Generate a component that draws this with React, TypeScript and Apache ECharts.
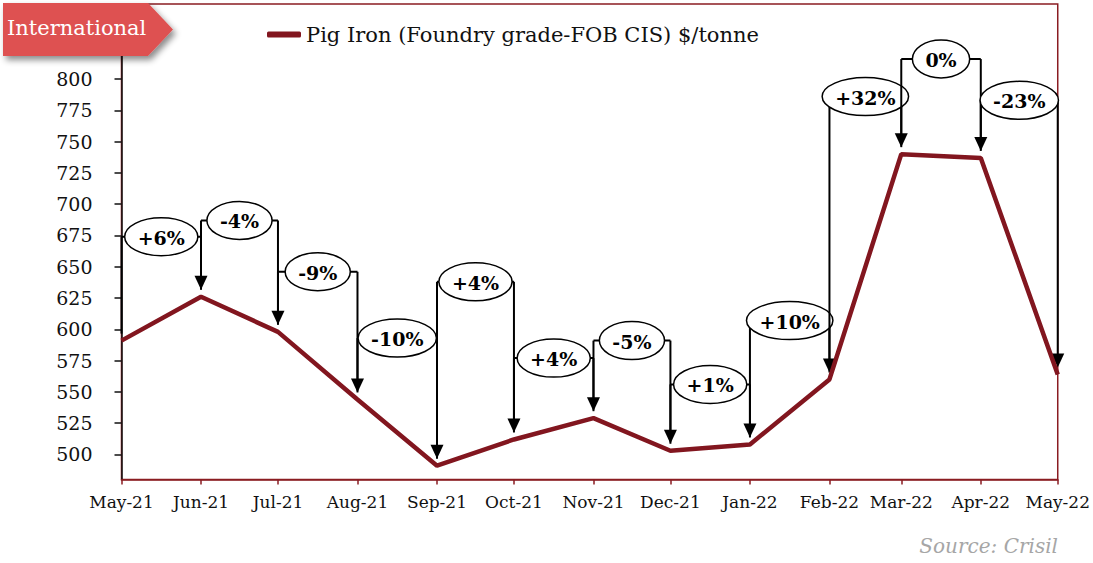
import React, { useEffect, useRef } from "react";
import * as echarts from "echarts";

const monthLabels = ["May-21", "Jun-21", "Jul-21", "Aug-21", "Sep-21", "Oct-21", "Nov-21", "Dec-21", "Jan-22", "Feb-22", "Mar-22", "Apr-22", "May-22"];
const monthDates = ["2021-05-01", "2021-06-01", "2021-07-01", "2021-08-01", "2021-09-01", "2021-10-01", "2021-11-01", "2021-12-01", "2022-01-01", "2022-02-01", "2022-03-01", "2022-04-01", "2022-05-01"];
const pigIronPrices = [591, 626, 598, 544, 491, 512, 529, 503, 508, 560, 740, 737, 564];
const changeLabels = ["+6%", "-4%", "-9%", "-10%", "+4%", "+4%", "-5%", "+1%", "+10%", "+32%", "0%", "-23%"];
// annotation bracket levels (in $/tonne units)
const bracketLevels = [674, 687, 646, 593, 638, 577, 591, 556, 607, 786, 816, 783];
const yTickValues = [500, 525, 550, 575, 600, 625, 650, 675, 700, 725, 750, 775, 800, 825, 850];
const yLabelValues = [500, 525, 550, 575, 600, 625, 650, 675, 700, 725, 750, 775, 800];
const seriesName = "Pig Iron (Foundry grade-FOB CIS) $/tonne";

const DAY = 86400000;
const dayOffsets = monthDates.map((d) => Math.round((Date.parse(d) - Date.parse(monthDates[0])) / DAY));

const SERIF = '"DejaVu Serif", "Liberation Serif", serif';
const LABEL_FONT = `bold 19px ${SERIF}`;

let measureCtx: CanvasRenderingContext2D | null = null;
function textWidth(t: string, font: string): number {
  if (!measureCtx) {
    const c = document.createElement("canvas");
    measureCtx = c.getContext("2d");
  }
  if (!measureCtx) return t.length * 12;
  measureCtx.font = font;
  return measureCtx.measureText(t).width;
}

export default function App() {
  const ref = useRef<HTMLDivElement | null>(null);

  useEffect(() => {
    if (!ref.current) return;
    const chart = echarts.init(ref.current, undefined, { renderer: "svg" });
    const lineData = dayOffsets.map((d, i) => [d, pigIronPrices[i]]);
    const annData = changeLabels.map((_, k) => [k + 1, bracketLevels[k]]);

    const option: any = {
      animation: false,
      backgroundColor: "#ffffff",
      grid: {
        left: 121.5,
        right: 34.5,
        top: 4,
        bottom: 83.5,
        show: true,
        borderColor: "#8a1c22",
        borderWidth: 1.5,
        backgroundColor: "transparent",
      },
      legend: {
        data: [seriesName],
        left: 262,
        top: 19,
        icon: "roundRect",
        itemWidth: 34,
        itemHeight: 6,
        itemGap: 10,
        textStyle: { fontFamily: SERIF, fontSize: 21, color: "#111", lineHeight: 21 },
      },
      xAxis: {
        type: "value",
        min: dayOffsets[0],
        max: dayOffsets[dayOffsets.length - 1],
        splitLine: { show: false },
        axisLine: { show: true, lineStyle: { color: "#8a1c22", width: 1.5 } },
        axisTick: {
          show: true,
          customValues: dayOffsets,
          length: 5,
          inside: false,
          lineStyle: { color: "#8a1c22", width: 1.5 },
        },
        axisLabel: {
          customValues: dayOffsets,
          margin: 14,
          fontFamily: SERIF,
          fontSize: 17,
          color: "#111",
          formatter: (v: number) => {
            const idx = dayOffsets.indexOf(Math.round(v));
            return idx >= 0 ? monthLabels[idx] : "";
          },
        },
      },
      yAxis: {
        type: "value",
        min: 480,
        max: 860,
        splitLine: { show: false },
        axisLine: { show: true, lineStyle: { color: "#111", width: 1.5 } },
        axisTick: {
          show: true,
          customValues: yTickValues,
          length: 7,
          inside: false,
          lineStyle: { color: "#111", width: 1.5 },
        },
        axisLabel: {
          customValues: yLabelValues,
          margin: 29,
          fontFamily: SERIF,
          fontSize: 19,
          color: "#111",
        },
      },
      series: [
        {
          name: seriesName,
          type: "line",
          data: lineData,
          symbol: "none",
          z: 3,
          lineStyle: { color: "#82161f", width: 4.5 },
          itemStyle: { color: "#82161f" },
        },
        {
          name: "changes",
          type: "custom",
          coordinateSystem: "cartesian2d",
          z: 2,
          data: annData,
          renderItem: (params: any, api: any) => {
            const i = api.value(0) as number;
            const level = api.value(1) as number;
            const pPrev = api.coord([dayOffsets[i - 1], level]);
            const pCur = api.coord([dayOffsets[i], level]);
            const xPrev = pPrev[0];
            const yBar = pPrev[1];
            const xCur = pCur[0];
            const yPrevPt = api.coord([dayOffsets[i - 1], pigIronPrices[i - 1]])[1];
            const yCurPt = api.coord([dayOffsets[i], pigIronPrices[i]])[1];
            const gap = 7;
            const tip = yCurPt - gap;
            const head = 14;
            const half = 6.5;
            const label = changeLabels[i - 1];
            const w = textWidth(label, LABEL_FONT);
            const rx = w / 2 + 13;
            const ry = 19;
            const cx = (xPrev + xCur) / 2;
            const stroke = { stroke: "#000", lineWidth: 2 };
            return {
              type: "group",
              children: [
                { type: "line", shape: { x1: xPrev, y1: yBar, x2: xPrev, y2: yPrevPt - gap }, style: stroke },
                { type: "line", shape: { x1: xPrev, y1: yBar, x2: xCur, y2: yBar }, style: stroke },
                { type: "line", shape: { x1: xCur, y1: yBar, x2: xCur, y2: tip - head + 1 }, style: stroke },
                {
                  type: "polygon",
                  shape: { points: [[xCur - half, tip - head], [xCur + half, tip - head], [xCur, tip]] },
                  style: { fill: "#000" },
                },
                {
                  type: "ellipse",
                  shape: { cx, cy: yBar, rx, ry },
                  style: { fill: "#fff", stroke: "#000", lineWidth: 1.5 },
                },
                {
                  type: "text",
                  x: cx,
                  y: yBar + 1,
                  style: { text: label, font: LABEL_FONT, fill: "#000", align: "center", verticalAlign: "middle" },
                },
              ],
            };
          },
        },
      ],
      graphic: [
        {
          type: "polygon",
          z: 100,
          shape: { points: [[3, 3], [148, 3], [173, 29.5], [148, 56], [3, 56]] },
          style: {
            fill: "#de5151",
            shadowBlur: 6,
            shadowOffsetX: 3,
            shadowOffsetY: 4,
            shadowColor: "rgba(0,0,0,0.45)",
          },
        },
        {
          type: "text",
          z: 101,
          left: 7,
          top: 17,
          style: { text: "International", font: `21px ${SERIF}`, fill: "#ffffff" },
        },
        {
          type: "text",
          z: 101,
          right: 35,
          top: 536,
          style: { text: "Source: Crisil", font: `italic 20px ${SERIF}`, fill: "#a6a6a6" },
        },
      ],
    };

    chart.setOption(option);
    return () => {
      chart.dispose();
    };
  }, []);

  return (
    <div
      ref={ref}
      style={{ position: "fixed", left: 0, top: 0, width: 1093, height: 563, background: "#fff" }}
    />
  );
}
